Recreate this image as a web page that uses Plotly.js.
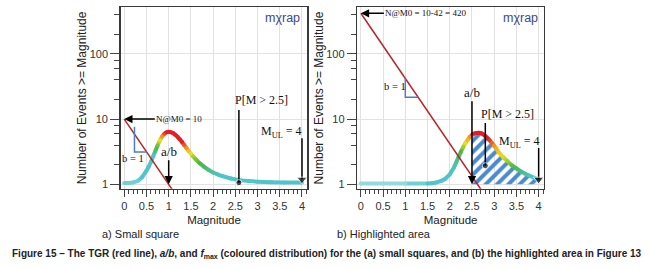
<!DOCTYPE html>
<html><head><meta charset="utf-8">
<script src="https://cdn.plot.ly/plotly-3.0.1.min.js"></script>
<style>html,body{margin:0;padding:0;background:#fff;}#chart{width:650px;height:268px;}</style>
</head><body><div id="chart"></div>
<script>
// ---- data: (a) small square ----
const magA    = [0, 0.1, 0.2, 0.3, 0.4, 0.5, 0.55, 0.6, 0.65, 0.7, 0.75, 0.8, 0.85, 0.9, 0.95, 1.0, 1.05, 1.1, 1.15, 1.2, 1.25, 1.3, 1.35, 1.4, 1.45, 1.5, 1.55, 1.6, 1.7, 1.8, 1.9, 2.0, 2.1, 2.2, 2.4, 2.6, 2.8, 3.0, 3.3, 3.6, 4.0];
const eventsA = [1.05, 1.05, 1.07, 1.12, 1.28, 1.62, 1.86, 2.2, 2.7, 3.25, 3.95, 4.7, 5.4, 5.95, 6.3, 6.4, 6.3, 6.1, 5.75, 5.35, 4.9, 4.45, 4.0, 3.6, 3.25, 2.95, 2.68, 2.45, 2.1, 1.85, 1.66, 1.52, 1.42, 1.34, 1.23, 1.16, 1.12, 1.1, 1.08, 1.07, 1.07];
const heatA   = [0.05, 0.05, 0.05, 0.05, 0.1, 0.1, 0.1, 0.1, 0.1, 0.3, 0.45, 0.6, 0.8, 0.92, 1, 1, 1, 1, 1, 1, 1, 1, 0.9, 0.8, 0.68, 0.6, 0.52, 0.46, 0.4, 0.34, 0.25, 0.18, 0.12, 0.1, 0.1, 0.1, 0.1, 0.1, 0.1, 0.1, 0.1];
const tgrMagA    = [0, 1.2];
const tgrEventsA = [10, 0.63];
const slopeMagA    = [0.23, 0.23, 0.51];
const slopeEventsA = [7.65, 3.13, 3.13];
const probMagA    = [2.58, 2.58];
const probEventsA = [13.8, 1.06];
const mulMagA     = [4, 4];
const mulEventsA  = [5.1, 1.19];

// ---- data: (b) highlighted area ----
const magB    = [0, 0.5, 1.0, 1.5, 1.6, 1.7, 1.8, 1.9, 2.0, 2.1, 2.15, 2.2, 2.25, 2.3, 2.35, 2.4, 2.45, 2.5, 2.55, 2.6, 2.65, 2.7, 2.75, 2.8, 2.85, 2.9, 2.95, 3.0, 3.05, 3.1, 3.2, 3.3, 3.4, 3.5, 3.6, 3.7, 3.8, 3.9, 4.0];
const eventsB = [1.03, 1.03, 1.03, 1.03, 1.04, 1.07, 1.12, 1.22, 1.42, 1.85, 2.2, 2.65, 3.15, 3.7, 4.25, 4.8, 5.3, 5.75, 6.0, 6.15, 6.2, 6.1, 5.85, 5.5, 5.1, 4.7, 4.3, 3.9, 3.5, 3.1, 2.62, 2.25, 1.95, 1.75, 1.58, 1.45, 1.35, 1.26, 1.2];
const heatB   = [0, 0, 0, 0.1, 0.1, 0.1, 0.1, 0.1, 0.1, 0.15, 0.22, 0.3, 0.4, 0.5, 0.6, 0.7, 0.8, 0.9, 1, 1, 1, 1, 1, 1, 1, 0.95, 0.88, 0.8, 0.72, 0.66, 0.58, 0.5, 0.42, 0.35, 0.28, 0.2, 0.13, 0.1, 0.1];
const tgrMagB    = [0, 2.9];
const tgrEventsB = [420, 0.53];
const slopeMagB    = [1.0, 1.0, 1.29];
const slopeEventsB = [42, 21.6, 21.6];
const probMagB    = [2.8, 2.8];
const probEventsB = [8.7, 1.93];
const mulMagB     = [4, 4];
const mulEventsB  = [3.6, 1.19];
const hatchFromMag = 2.5;
const baseEvents = 1;

// ---- ticks ----
const xTickVals = [0, 0.5, 1, 1.5, 2, 2.5, 3, 3.5, 4];
const xTickText = ['0', '0.5', '1', '1.5', '2', '2.5', '3', '3.5', '4'];
const yTickVals = [1, 10, 100];
const yTickText = ['1', '10', '100'];
const yMinorVals = [2, 4, 6, 8, 20, 40, 60, 80, 200, 400];

// ---- colour scale for f_max ----
const heatScale = [[0, [147, 217, 224]], [0.1, [79, 196, 204]], [0.4, [76, 184, 72]], [0.6, [232, 224, 32]], [0.8, [243, 147, 32]], [1, [227, 30, 36]]];
function heatColor(h) {
  for (let i = 1; i < heatScale.length; i++) {
    const [p1, c1] = heatScale[i - 1], [p2, c2] = heatScale[i];
    if (h <= p2) {
      const t = (h - p1) / (p2 - p1);
      const c = c1.map((v, k) => Math.round(v + (c2[k] - v) * t));
      return 'rgb(' + c.join(',') + ')';
    }
  }
  return 'rgb(' + heatScale[heatScale.length - 1][1].join(',') + ')';
}

const traces = [];
function curveTraces(m, n, h, xa, ya) {
  for (let i = 0; i < m.length - 1; i++) {
    traces.push({x: [m[i], m[i + 1]], y: [n[i], n[i + 1]], xaxis: xa, yaxis: ya, mode: 'lines',
      line: {color: heatColor((h[i] + h[i + 1]) / 2), width: 4}, hoverinfo: 'skip', showlegend: false});
  }
  traces.push({x: m, y: n, xaxis: xa, yaxis: ya, mode: 'markers',
    marker: {size: 4, color: h.map(heatColor), line: {width: 0}}, hoverinfo: 'skip', showlegend: false});
}

// hatched area (b)
const hx = [], hy = [];
hx.push(hatchFromMag); hy.push(baseEvents);
magB.forEach((m, i) => { if (m >= hatchFromMag) { hx.push(m); hy.push(eventsB[i]); } });
hx.push(magB[magB.length - 1]); hy.push(baseEvents);
traces.push({x: hx, y: hy, xaxis: 'x2', yaxis: 'y2', mode: 'lines', fill: 'toself', line: {width: 0},
  fillcolor: 'rgba(0,0,0,0)',
  fillpattern: {shape: '/', fgcolor: '#4a8ad0', bgcolor: 'rgba(255,255,255,0)', size: 8, solidity: 0.5},
  hoverinfo: 'skip', showlegend: false});

curveTraces(magA, eventsA, heatA, 'x', 'y');
curveTraces(magB, eventsB, heatB, 'x2', 'y2');

const red = '#b8242a', blue = '#4a7fc0';
[[tgrMagA, tgrEventsA, 'x', 'y'], [tgrMagB, tgrEventsB, 'x2', 'y2']].forEach(([m, n, xa, ya]) => {
  traces.push({x: m, y: n, xaxis: xa, yaxis: ya, mode: 'lines', line: {color: red, width: 1.5}, hoverinfo: 'skip', showlegend: false});
});
[[slopeMagA, slopeEventsA, 'x', 'y'], [slopeMagB, slopeEventsB, 'x2', 'y2']].forEach(([m, n, xa, ya]) => {
  traces.push({x: m, y: n, xaxis: xa, yaxis: ya, mode: 'lines', line: {color: blue, width: 1.5}, hoverinfo: 'skip', showlegend: false});
});
[[probMagA, probEventsA, 'x', 'y'], [probMagB, probEventsB, 'x2', 'y2']].forEach(([m, n, xa, ya]) => {
  traces.push({x: m, y: n, xaxis: xa, yaxis: ya, mode: 'lines+markers', line: {color: '#000', width: 1.5},
    marker: {size: [0, 6], color: '#000'}, cliponaxis: false, hoverinfo: 'skip', showlegend: false});
});
[[mulMagA, mulEventsA, 'x', 'y'], [mulMagB, mulEventsB, 'x2', 'y2']].forEach(([m, n, xa, ya]) => {
  traces.push({x: m, y: n, xaxis: xa, yaxis: ya, mode: 'lines+markers', line: {color: '#000', width: 1.5},
    marker: {size: [0, 9], symbol: 'triangle-down', color: '#000'}, cliponaxis: false, hoverinfo: 'skip', showlegend: false});
});

const sans = 'Liberation Sans, Arial, sans-serif';
const tickFont = {family: sans, size: 11, color: '#333'};
function xAxis(dom, anchor) {
  return {domain: dom, anchor: anchor, range: [-0.08, 4.12], tickmode: 'array', tickvals: xTickVals, ticktext: xTickText,
    ticks: 'outside', ticklen: 7, tickwidth: 1, tickcolor: '#444', showgrid: true, gridcolor: '#e2e2e2', gridwidth: 1,
    zeroline: false, showline: true, mirror: true, linecolor: '#3a3a3a', linewidth: 1.5, tickfont: tickFont,
    minor: {dtick: 0.1, ticks: 'outside', ticklen: 4, tickcolor: '#444', showgrid: false},
    title: {text: 'Magnitude', font: {family: sans, size: 11.5, color: '#222'}, standoff: 4}};
}
function yAxis(anchor) {
  return {domain: [0.2959, 0.9728], anchor: anchor, type: 'log', range: [-0.067, 2.715], tickmode: 'array',
    tickvals: yTickVals, ticktext: yTickText, ticks: 'outside', ticklen: 9, tickwidth: 1, tickcolor: '#444',
    showgrid: true, gridcolor: '#e2e2e2', zeroline: false, showline: true, mirror: true, linecolor: '#3a3a3a', linewidth: 1.5,
    tickfont: tickFont,
    minor: {tickmode: 'array', tickvals: yMinorVals, ticks: 'outside', ticklen: 5, tickcolor: '#444', showgrid: false},
    title: {text: 'Number of Events >= Magnitude', font: {family: sans, size: 12, color: '#222'}, standoff: 0}};
}

const serif = 'Liberation Serif, Times New Roman, serif';
const L = Math.log10;
function txt(xr, yr, x, y, text, size, xanchor, family, color) {
  return {xref: xr, yref: yr, x: x, y: y, text: text, showarrow: false, xanchor: xanchor || 'center', yanchor: 'middle',
    font: {family: family || serif, size: size, color: color || '#111'}};
}
function arrowTxt(xr, yr, x, y, ax, ay, text, size) {
  return {xref: xr, yref: yr, x: x, y: y, ax: ax, ay: ay, text: text, showarrow: true, arrowhead: 2, arrowsize: 1.1,
    arrowwidth: 1.5, arrowcolor: '#000', standoff: 0, font: {family: serif, size: size, color: '#111'}};
}
const annotations = [
  // (a)
  arrowTxt('x', 'y', 0, L(10), 55, 0, 'N@M0 = 10', 9),
  txt('x', 'y', 0.2, 0.403, 'b = 1', 10.5),
  arrowTxt('x', 'y', 1, 0, 0, -33, 'a/b', 13),
  txt('x', 'y', 3.1, 1.293, 'P[M > 2.5]', 12),
  txt('x', 'y', 4.05, 0.807, 'M<sub>UL</sub> = 4', 12, 'right'),
  txt('x', 'y', 4.0, 2.546, 'mχrap', 12.5, 'right', sans, '#3b4a8c'),
  // (b)
  arrowTxt('x2', 'y2', 0, L(420), 65, 0, 'N@M0 = 10-42 = 420', 9),
  txt('x2', 'y2', 0.77, 1.497, 'b = 1', 10.5),
  arrowTxt('x2', 'y2', 2.5, 0, 0, -92, 'a/b', 13),
  txt('x2', 'y2', 3.31, 1.074, 'P[M > 2.5]', 12),
  txt('x2', 'y2', 4.07, 0.653, 'M<sub>UL</sub> = 4', 12, 'right'),
  txt('x2', 'y2', 4.03, 2.546, 'mχrap', 12.5, 'right', sans, '#3b4a8c'),
  // captions
  txt('paper', 'paper', 0.1538, 0.1257, 'a) Small square', 11, 'left', sans, '#222'),
  txt('paper', 'paper', 0.5154, 0.1257, 'b) Highlighted area', 11, 'left', sans, '#222'),
  txt('paper', 'paper', 0.503, 0.052, '<b>Figure 15 – The TGR (red line), <i>a/b</i>, and <i>f</i><sub>max</sub> (coloured distribution) for the (a) small squares, and (b) the highlighted area in Figure 13</b>', 10, 'center', sans, '#222')
];

const layout = {
  width: 650, height: 268, margin: {l: 0, r: 0, t: 0, b: 0}, paper_bgcolor: '#fff', plot_bgcolor: '#fff',
  showlegend: false,
  xaxis: xAxis([0.1857, 0.4728], 'y'),
  yaxis: yAxis('x'),
  xaxis2: xAxis([0.5497, 0.8369], 'y2'),
  yaxis2: yAxis('x2'),
  annotations: annotations
};
Plotly.newPlot('chart', traces, layout, {displayModeBar: false, staticPlot: true});
</script></body></html>
